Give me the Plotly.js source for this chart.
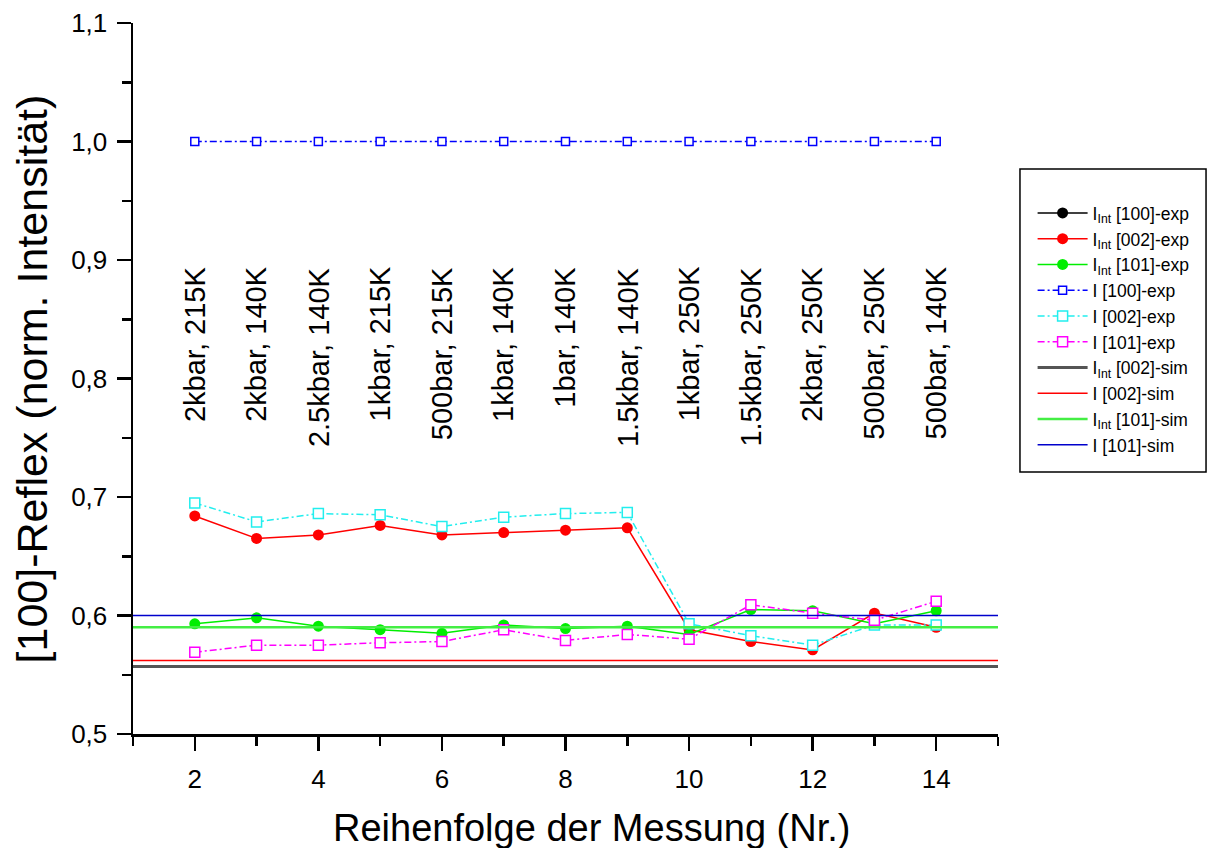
<!DOCTYPE html>
<html>
<head>
<meta charset="utf-8">
<script src="https://cdn.plot.ly/plotly-3.0.1.min.js"></script>
<style>html,body{margin:0;padding:0;background:#fff;}#chart{width:1209px;height:848px;}</style>
</head>
<body>
<div id="chart"></div>
<script>
// Measurement order numbers
const measNr = [2, 3, 4, 5, 6, 7, 8, 9, 10, 11, 12, 13, 14];
// Condition labels per measurement
const condLabels = ["2kbar, 215K", "2kbar, 140K", "2.5kbar, 140K", "1kbar, 215K", "500bar, 215K",
  "1kbar, 140K", "1bar, 140K", "1.5kbar, 140K", "1kbar, 250K", "1.5kbar, 250K",
  "2kbar, 250K", "500bar, 250K", "500bar, 140K"];
// Experimental series (normalized to [100])
const iInt100exp = [null, null, null, null, null, null, null, null, null, null, null, null, null];
const iInt002exp = [0.684, 0.665, 0.668, 0.676, 0.668, 0.670, 0.672, 0.674, 0.588, 0.578, 0.571, 0.602, 0.590];
const iInt101exp = [0.593, 0.598, 0.591, 0.588, 0.585, 0.592, 0.589, 0.591, 0.584, 0.605, 0.604, 0.593, 0.604];
const i100exp = [1.0, 1.0, 1.0, 1.0, 1.0, 1.0, 1.0, 1.0, 1.0, 1.0, 1.0, 1.0, 1.0];
const i002exp = [0.695, 0.679, 0.686, 0.685, 0.675, 0.683, 0.686, 0.687, 0.593, 0.583, 0.575, 0.592, 0.592];
const i101exp = [0.569, 0.575, 0.575, 0.577, 0.578, 0.588, 0.579, 0.584, 0.580, 0.609, 0.602, 0.596, 0.612];
// Simulated constant levels
const iInt002sim = 0.557;
const i002sim = 0.562;
const iInt101sim = 0.590;
const i101sim = 0.600;

const xRange = [1, 15];
const FONT = "Liberation Sans, Arial, sans-serif";
const dashDot = "7px,3px,2px,3px";

function expCircle(name, y, color) {
  return {x: measNr, y: y, name: name, type: "scatter", mode: "lines+markers",
    line: {color: color, width: 1.5}, marker: {symbol: "circle", size: 11, color: color}};
}
function expSquare(name, y, color, size) {
  return {x: measNr, y: y, name: name, type: "scatter", mode: "lines+markers",
    line: {color: color, width: 1.5, dash: dashDot},
    marker: {symbol: "square", size: size, color: "#ffffff", line: {color: color, width: 1.5}}};
}
function simLine(name, v, color, width) {
  return {x: xRange, y: [v, v], name: name, type: "scatter", mode: "lines",
    line: {color: color, width: width}};
}

const traces = [
  expCircle("I<sub>Int</sub> [100]-exp", iInt100exp, "#000000"),
  expCircle("I<sub>Int</sub> [002]-exp", iInt002exp, "#ff0000"),
  expCircle("I<sub>Int</sub> [101]-exp", iInt101exp, "#00ee00"),
  expSquare("I [100]-exp", i100exp, "#0000ff", 8),
  expSquare("I [002]-exp", i002exp, "#22eeee", 10),
  expSquare("I [101]-exp", i101exp, "#ff00ff", 10),
  simLine("I<sub>Int</sub> [002]-sim", iInt002sim, "#555555", 3),
  simLine("I [002]-sim", i002sim, "#ff0000", 1.5),
  simLine("I<sub>Int</sub> [101]-sim", iInt101sim, "#44ee44", 2.5),
  simLine("I [101]-sim", i101sim, "#0000cc", 1.5)
];
traces.forEach((t, i) => { t.legendgroup = "g" + i; });

const annotations = condLabels.map((txt, i) => ({
  x: measNr[i], y: 0.896, xref: "x", yref: "y", text: txt, showarrow: false,
  textangle: -90, xanchor: "center", yanchor: "top",
  font: {family: FONT, size: 29, color: "#000"}
}));
annotations.push({
  text: "[100]-Reflex (norm. Intensität)", xref: "paper", yref: "paper",
  x: -0.1168, y: 0.5, xanchor: "center", yanchor: "middle", textangle: -90,
  showarrow: false, font: {family: FONT, size: 43, color: "#000"}
});
annotations.push({
  text: "Reihenfolge der Messung (Nr.)", xref: "paper", yref: "paper",
  x: 0.5306, y: -0.1322, xanchor: "center", yanchor: "middle",
  showarrow: false, font: {family: FONT, size: 38, color: "#000"}
});

const layout = {
  width: 1209, height: 848,
  margin: {l: 133, r: 211, t: 23, b: 114},
  paper_bgcolor: "#fff", plot_bgcolor: "#fff",
  separators: ",.",
  font: {family: FONT, color: "#000"},
  showlegend: true,
  legend: {x: 1.04, y: 0.758, xanchor: "left", yanchor: "top",
    font: {family: FONT, size: 17.5, color: "#000"}, bgcolor: "rgba(0,0,0,0)",
    borderwidth: 0, traceorder: "grouped", tracegroupgap: 0, itemwidth: 50},
  xaxis: {range: xRange, showgrid: false, zeroline: false, showline: true,
    linecolor: "#000", linewidth: 2.5, ticks: "outside", ticklen: 14, tickwidth: 2.5,
    tickcolor: "#000", tick0: 0, dtick: 2, tickfont: {family: FONT, size: 26, color: "#000"},
    minor: {ticks: "outside", ticklen: 9, tickwidth: 2.5, tickcolor: "#000", dtick: 1, tick0: 0, showgrid: false},
    ticklabelstandoff: 6},
  yaxis: {range: [0.5, 1.1], showgrid: false, zeroline: false, showline: true,
    linecolor: "#000", linewidth: 2.5, ticks: "outside", ticklen: 14, tickwidth: 2.5,
    tickcolor: "#000", tick0: 0.5, dtick: 0.1, tickformat: ".1f",
    tickfont: {family: FONT, size: 26, color: "#000"},
    minor: {ticks: "outside", ticklen: 9, tickwidth: 2.5, tickcolor: "#000", dtick: 0.05, tick0: 0.5, showgrid: false},
    ticklabelstandoff: 4},
  annotations: annotations,
  shapes: [{type: "rect", xref: "paper", yref: "paper",
    x0: 1.0254, x1: 1.2405, y0: 0.3685, y1: 0.7947,
    line: {color: "#000", width: 1.5}, fillcolor: "rgba(0,0,0,0)"}]
};

Plotly.newPlot("chart", traces, layout, {displayModeBar: false, staticPlot: true});
</script>
</body>
</html>
